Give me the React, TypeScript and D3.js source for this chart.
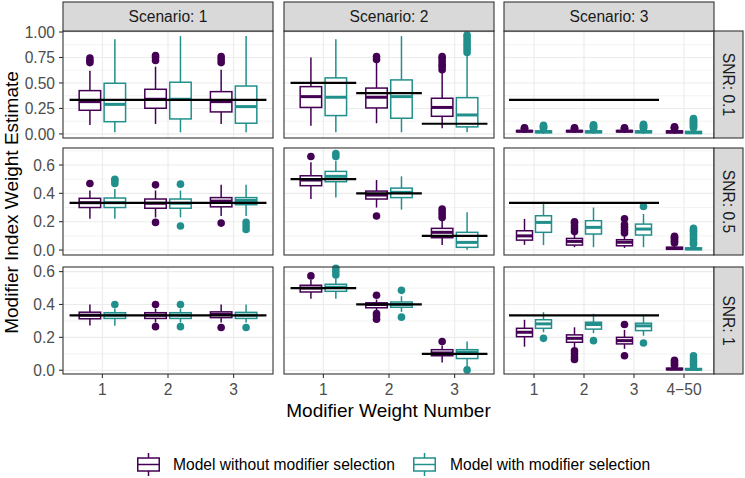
import React from 'react';
import * as d3 from 'd3';

// facet levels
const scenarios = ['1', '2', '3'];
const snrLevels = ['0.1', '0.5', '1'];
const xLevels: Record<string, string[]> = {
  '1': ['1', '2', '3'],
  '2': ['1', '2', '3'],
  '3': ['1', '2', '3', '4\u221250'],
};
const models = ['Model without modifier selection', 'Model with modifier selection'];
const modelColors = ['#440154', '#21908C'];

// y ticks per SNR row
const yTicks01 = [0, 0.25, 0.5, 0.75, 1];
const yTicks05 = [0, 0.2, 0.4, 0.6];
const yTicks1 = [0, 0.2, 0.4, 0.6];

// true weights: [scenario, from level, to level, value]
const trueWeights: [string, number, number, number][] = [
  ['1', 1, 3, 1 / 3],
  ['2', 1, 1, 0.5],
  ['2', 2, 2, 0.4],
  ['2', 3, 3, 0.1],
  ['3', 1, 3, 1 / 3],
];

// box stats: [scenario, level, model, lower whisker, q1, median, q3, upper whisker, outliers]
type Box = [string, number, number, number, number, number, number, number, number[]];

const boxesSnr01: Box[] = [
  ['1', 1, 0, 0.088, 0.232, 0.317, 0.425, 0.62, [0.7, 0.72, 0.745]],
  ['1', 1, 1, 0.016, 0.12, 0.29, 0.497, 0.93, []],
  ['1', 2, 0, 0.098, 0.252, 0.34, 0.438, 0.66, [0.72, 0.75, 0.77]],
  ['1', 2, 1, 0.016, 0.147, 0.34, 0.507, 0.96, []],
  ['1', 3, 0, 0.098, 0.216, 0.317, 0.415, 0.63, [0.7, 0.73, 0.76]],
  ['1', 3, 1, 0.016, 0.105, 0.268, 0.47, 0.96, []],
  ['2', 1, 0, 0.08, 0.26, 0.366, 0.464, 0.75, []],
  ['2', 1, 1, 0.016, 0.18, 0.36, 0.55, 0.93, []],
  ['2', 2, 0, 0.105, 0.255, 0.36, 0.45, 0.7, [0.73, 0.76]],
  ['2', 2, 1, 0.016, 0.154, 0.366, 0.53, 0.96, []],
  ['2', 3, 0, 0.055, 0.173, 0.26, 0.35, 0.61, [0.63, 0.66, 0.68, 0.71, 0.74, 0.76]],
  ['2', 3, 1, 0.016, 0.069, 0.186, 0.356, 0.77, [0.8, 0.83, 0.86, 0.89, 0.92, 0.95, 0.97]],
  ['3', 1, 0, 0.01, 0.02, 0.027, 0.033, 0.045, [0.05, 0.055, 0.06]],
  ['3', 1, 1, 0.0, 0.012, 0.02, 0.03, 0.05, [0.055, 0.065, 0.075, 0.085]],
  ['3', 2, 0, 0.01, 0.02, 0.027, 0.033, 0.045, [0.05, 0.055, 0.06]],
  ['3', 2, 1, 0.0, 0.012, 0.02, 0.03, 0.05, [0.055, 0.065, 0.075, 0.085, 0.09]],
  ['3', 3, 0, 0.01, 0.02, 0.027, 0.033, 0.045, [0.05, 0.055, 0.06]],
  ['3', 3, 1, 0.0, 0.012, 0.02, 0.03, 0.05, [0.055, 0.065, 0.075, 0.085, 0.095]],
  ['3', 4, 0, 0.0, 0.01, 0.02, 0.03, 0.05, [0.055, 0.06, 0.065, 0.07]],
  ['3', 4, 1, 0.0, 0.005, 0.012, 0.025, 0.05, [0.06, 0.07, 0.08, 0.09, 0.1, 0.11, 0.12, 0.13, 0.14, 0.15]],
];

const boxesSnr05: Box[] = [
  ['1', 1, 0, 0.22, 0.3, 0.334, 0.365, 0.42, [0.47]],
  ['1', 1, 1, 0.22, 0.3, 0.334, 0.367, 0.43, [0.47, 0.49, 0.5]],
  ['1', 2, 0, 0.23, 0.295, 0.33, 0.36, 0.42, [0.46, 0.195]],
  ['1', 2, 1, 0.23, 0.295, 0.33, 0.36, 0.42, [0.465, 0.17]],
  ['1', 3, 0, 0.24, 0.305, 0.345, 0.37, 0.46, [0.19]],
  ['1', 3, 1, 0.24, 0.32, 0.35, 0.37, 0.46, [0.195, 0.17, 0.145]],
  ['2', 1, 0, 0.36, 0.454, 0.494, 0.524, 0.62, [0.66]],
  ['2', 1, 1, 0.37, 0.482, 0.52, 0.555, 0.63, [0.66, 0.68]],
  ['2', 2, 0, 0.3, 0.36, 0.388, 0.416, 0.494, [0.24]],
  ['2', 2, 1, 0.285, 0.37, 0.407, 0.437, 0.52, []],
  ['2', 3, 0, 0.035, 0.087, 0.125, 0.153, 0.21, [0.23, 0.25, 0.27, 0.29]],
  ['2', 3, 1, 0.002, 0.019, 0.054, 0.125, 0.266, []],
  ['3', 1, 0, 0.037, 0.07, 0.1, 0.136, 0.22, []],
  ['3', 1, 1, 0.035, 0.125, 0.195, 0.242, 0.34, []],
  ['3', 2, 0, 0.02, 0.035, 0.061, 0.082, 0.12, [0.13, 0.15, 0.17, 0.19, 0.2]],
  ['3', 2, 1, 0.02, 0.113, 0.16, 0.207, 0.3, []],
  ['3', 3, 0, 0.015, 0.03, 0.055, 0.073, 0.1, [0.12, 0.14, 0.16, 0.18, 0.22]],
  ['3', 3, 1, 0.02, 0.106, 0.148, 0.183, 0.254, [0.308]],
  ['3', 4, 0, 0.0, 0.005, 0.012, 0.02, 0.04, [0.05, 0.06, 0.07, 0.08, 0.09, 0.097]],
  ['3', 4, 1, 0.0, 0.003, 0.008, 0.015, 0.035, [0.04, 0.055, 0.07, 0.085, 0.1, 0.115, 0.13, 0.14, 0.153]],
];

const boxesSnr1: Box[] = [
  ['1', 1, 0, 0.272, 0.313, 0.335, 0.353, 0.4, []],
  ['1', 1, 1, 0.27, 0.315, 0.335, 0.35, 0.375, [0.4]],
  ['1', 2, 0, 0.29, 0.315, 0.335, 0.35, 0.375, [0.4, 0.265]],
  ['1', 2, 1, 0.29, 0.315, 0.335, 0.35, 0.375, [0.4, 0.265]],
  ['1', 3, 0, 0.29, 0.32, 0.34, 0.355, 0.4, [0.26]],
  ['1', 3, 1, 0.29, 0.315, 0.335, 0.352, 0.4, [0.26]],
  ['2', 1, 0, 0.435, 0.476, 0.5, 0.517, 0.55, [0.574]],
  ['2', 1, 1, 0.435, 0.48, 0.505, 0.523, 0.56, [0.58, 0.6, 0.62]],
  ['2', 2, 0, 0.36, 0.38, 0.4, 0.41, 0.43, [0.456, 0.345, 0.33, 0.31]],
  ['2', 2, 1, 0.355, 0.383, 0.4, 0.415, 0.45, [0.486, 0.323]],
  ['2', 3, 0, 0.047, 0.088, 0.105, 0.125, 0.15, [0.175]],
  ['2', 3, 1, 0.026, 0.071, 0.11, 0.125, 0.174, [0.002]],
  ['3', 1, 0, 0.143, 0.204, 0.231, 0.255, 0.307, []],
  ['3', 1, 1, 0.231, 0.255, 0.282, 0.307, 0.353, [0.194]],
  ['3', 2, 0, 0.14, 0.17, 0.194, 0.215, 0.261, [0.118, 0.1, 0.08, 0.065]],
  ['3', 2, 1, 0.225, 0.25, 0.278, 0.292, 0.343, [0.18]],
  ['3', 3, 0, 0.13, 0.16, 0.18, 0.2, 0.245, [0.278, 0.088]],
  ['3', 3, 1, 0.21, 0.241, 0.27, 0.286, 0.34, [0.166]],
  ['3', 4, 0, 0.0, 0.003, 0.007, 0.012, 0.025, [0.03, 0.04, 0.05, 0.06]],
  ['3', 4, 1, 0.0, 0.002, 0.005, 0.01, 0.02, [0.025, 0.04, 0.055, 0.07, 0.088]],
];

const rowBoxes = [boxesSnr01, boxesSnr05, boxesSnr1];
const rowTicks = [yTicks01, yTicks05, yTicks1];
const rowDomains: [number, number][] = [[-0.04, 1.01], [-0.035, 0.72], [-0.023, 0.628]];
const rowFormat = [d3.format('.2f'), d3.format('.1f'), d3.format('.1f')];

const W = 745;
const H = 478;
const colX = [63, 284, 504];
const colW = 210;
const rowY = [31, 148, 267];
const rowH = 107;
const stripTop = 2;
const stripW = 29;
const font = '"Liberation Sans", Arial, Helvetica, sans-serif';
const gridCol = '#EBEBEB';
const darkCol = '#333333';
const dodge = 0.19;
const boxW = 0.35;
const smallFont = 15.6;
const titleFont = 19;

const Panel: React.FC<{ r: number; c: number }> = ({ r, c }) => {
  const sc = scenarios[c];
  const levels = xLevels[sc];
  const x = d3.scaleLinear().domain([0.4, levels.length + 0.6]).range([colX[c], colX[c] + colW]);
  const y = d3.scaleLinear().domain(rowDomains[r]).range([rowY[r] + rowH, rowY[r]]);
  const ticks = rowTicks[r];
  const step = ticks[1] - ticks[0];
  const minor = ticks.map(t => t + step / 2).filter(t => y(t) > rowY[r] && y(t) < rowY[r] + rowH);
  const boxes = rowBoxes[r].filter(b => b[0] === sc);
  const lines = trueWeights.filter(t => t[0] === sc);
  const x0 = colX[c];
  const x1 = colX[c] + colW;
  return (
    <g>
      <rect x={x0} y={rowY[r]} width={colW} height={rowH} fill="#fff" />
      {minor.map(t => (
        <line key={'mi' + t} x1={x0} x2={x1} y1={y(t)} y2={y(t)} stroke={gridCol} strokeWidth={0.6} />
      ))}
      {ticks.map(t => (
        <line key={'ma' + t} x1={x0} x2={x1} y1={y(t)} y2={y(t)} stroke={gridCol} strokeWidth={1.1} />
      ))}
      {levels.map((l, i) => (
        <line key={'mx' + l} x1={x(i + 1)} x2={x(i + 1)} y1={rowY[r]} y2={rowY[r] + rowH} stroke={gridCol} strokeWidth={1.1} />
      ))}
      {boxes.map((b, i) => {
        const [, lv, m, lo, q1, med, q3, hi, out] = b;
        const cx = x(lv + (m === 0 ? -dodge : dodge));
        const hw = (x(boxW) - x(0)) / 2;
        const col = modelColors[m];
        return (
          <g key={'b' + i}>
            <line x1={cx} x2={cx} y1={y(q3)} y2={y(hi)} stroke={col} strokeWidth={1.5} />
            <line x1={cx} x2={cx} y1={y(q1)} y2={y(lo)} stroke={col} strokeWidth={1.5} />
            <rect x={cx - hw + 0.75} y={y(q3)} width={2 * hw - 1.5} height={Math.max(0.1, y(q1) - y(q3))} fill="#fff" stroke={col} strokeWidth={1.5} />
            <line x1={cx - hw + 0.75} x2={cx + hw - 0.75} y1={y(med)} y2={y(med)} stroke={col} strokeWidth={3} />
            {out.map((o, j) => (
              <circle key={j} cx={cx} cy={y(o)} r={3.8} fill={col} />
            ))}
          </g>
        );
      })}
      {lines.map((t, i) => (
        <line key={'t' + i} x1={x(t[1] - 0.5)} x2={x(t[2] + 0.5)} y1={y(t[3])} y2={y(t[3])} stroke="#000" strokeWidth={2.2} />
      ))}
      <rect x={x0} y={rowY[r]} width={colW} height={rowH} fill="none" stroke={darkCol} strokeWidth={1.1} />
      {c === 0 &&
        ticks.map(t => (
          <g key={'yt' + t}>
            <line x1={x0 - 4} x2={x0} y1={y(t)} y2={y(t)} stroke={darkCol} strokeWidth={1.1} />
            <text x={x0 - 8} y={y(t)} dy="0.36em" textAnchor="end" fontSize={smallFont} fill="#4D4D4D" fontFamily={font}>
              {rowFormat[r](t)}
            </text>
          </g>
        ))}
      {r === 2 &&
        levels.map((l, i) => (
          <g key={'xt' + l}>
            <line x1={x(i + 1)} x2={x(i + 1)} y1={rowY[r] + rowH} y2={rowY[r] + rowH + 4} stroke={darkCol} strokeWidth={1.1} />
            <text x={x(i + 1)} y={rowY[r] + rowH + 21} textAnchor="middle" fontSize={smallFont} fill="#4D4D4D" fontFamily={font}>
              {l}
            </text>
          </g>
        ))}
    </g>
  );
};

const LegendKey: React.FC<{ x: number; col: string }> = ({ x, col }) => {
  const cx = x + 11.5;
  return (
    <g>
      <line x1={cx} x2={cx} y1={453} y2={458} stroke={col} strokeWidth={1.5} />
      <line x1={cx} x2={cx} y1={471} y2={476} stroke={col} strokeWidth={1.5} />
      <rect x={x + 0.75} y={458} width={21.5} height={13} fill="#fff" stroke={col} strokeWidth={1.5} />
      <line x1={x + 0.75} x2={x + 22.25} y1={464.5} y2={464.5} stroke={col} strokeWidth={1.5} />
    </g>
  );
};

const App: React.FC = () => {
  return (
    <svg width={W} height={H} style={{ position: 'absolute', left: 0, top: 0 }}>
      <rect width={W} height={H} fill="#fff" />
      {snrLevels.map((_, r) => scenarios.map((_, c) => <Panel key={r + '-' + c} r={r} c={c} />))}
      {scenarios.map((s, c) => (
        <g key={'st' + s}>
          <rect x={colX[c]} y={stripTop} width={colW} height={rowY[0] - stripTop} fill="#D9D9D9" stroke={darkCol} strokeWidth={1.1} />
          <text x={colX[c] + colW / 2} y={(stripTop + rowY[0]) / 2} dy="0.36em" textAnchor="middle" fontSize={smallFont} fill="#1A1A1A" fontFamily={font}>
            {'Scenario: ' + s}
          </text>
        </g>
      ))}
      {snrLevels.map((s, r) => {
        const sx = colX[2] + colW;
        const cy = rowY[r] + rowH / 2;
        return (
          <g key={'sr' + s}>
            <rect x={sx} y={rowY[r]} width={stripW} height={rowH} fill="#D9D9D9" stroke={darkCol} strokeWidth={1.1} />
            <text transform={`translate(${sx + stripW / 2},${cy}) rotate(90)`} dy="0.36em" textAnchor="middle" fontSize={smallFont} fill="#1A1A1A" fontFamily={font}>
              {'SNR: ' + s}
            </text>
          </g>
        );
      })}
      <text x={(colX[0] + colX[2] + colW) / 2} y={417} textAnchor="middle" fontSize={titleFont} fill="#000" fontFamily={font}>
        Modifier Weight Number
      </text>
      <text transform={`translate(18,${(rowY[0] + rowY[2] + rowH) / 2}) rotate(-90)`} textAnchor="middle" fontSize={titleFont} fill="#000" fontFamily={font}>
        Modifier Index Weight Estimate
      </text>
      <LegendKey x={137} col={modelColors[0]} />
      <text x={173} y={464.5} dy="0.36em" fontSize={smallFont} fill="#000" fontFamily={font}>
        {models[0]}
      </text>
      <LegendKey x={413} col={modelColors[1]} />
      <text x={450} y={464.5} dy="0.36em" fontSize={smallFont} fill="#000" fontFamily={font}>
        {models[1]}
      </text>
    </svg>
  );
};

export default App;
